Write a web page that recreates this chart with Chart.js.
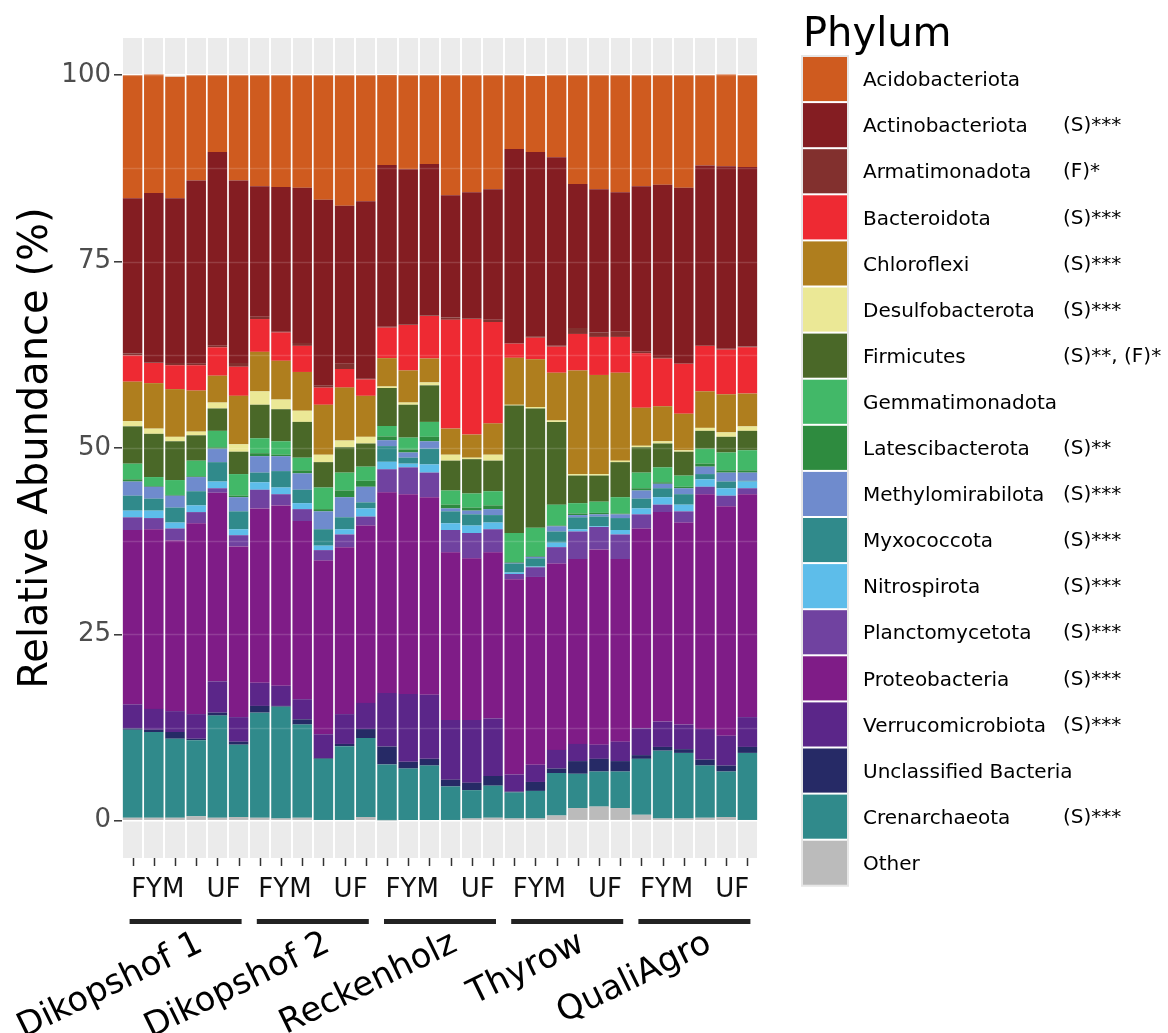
<!DOCTYPE html>
<html>
<head>
<meta charset="utf-8">
<title>Relative abundance by phylum</title>
<script src="https://cdn.jsdelivr.net/npm/chart.js@4.4.1/dist/chart.umd.min.js"></script>
<style>
  html, body { margin: 0; padding: 0; background: #fff; }
  #chart { display: block; }
</style>
</head>
<body>
<canvas id="chart" width="1168" height="1033"></canvas>
<script>
const sites = ['Dikopshof 1', 'Dikopshof 2', 'Reckenholz', 'Thyrow', 'QualiAgro']
const treatments = ['FYM', 'FYM', 'FYM', 'UF', 'UF', 'UF']
const yTicks = [0, 25, 50, 75, 100]

// legend order (top of the stack first)
const phyla = ['Acidobacteriota', 'Actinobacteriota', 'Armatimonadota', 'Bacteroidota', 'Chloroflexi',
  'Desulfobacterota', 'Firmicutes', 'Gemmatimonadota', 'Latescibacterota', 'Methylomirabilota',
  'Myxococcota', 'Nitrospirota', 'Planctomycetota', 'Proteobacteria', 'Verrucomicrobiota',
  'Unclassified Bacteria', 'Crenarchaeota', 'Other']
const phylumColors = ['#CF5B1F', '#841D22', '#82302E', '#EE2A33', '#AF7E1E',
  '#EBE896', '#4A6828', '#42B868', '#2E8B3F', '#6F8BCD',
  '#308A8B', '#5DBDEA', '#7042A0', '#7F1C87', '#5B2689',
  '#262A66', '#308A8B', '#BBBBBB']
const phylumNotes = ['', '(S)***', '(F)*', '(S)***', '(S)***',
  '(S)***', '(S)**, (F)*', '', '(S)**', '(S)***',
  '(S)***', '(S)***', '(S)***', '(S)***', '(S)***',
  '', '(S)***', '']

// relative abundance (%), 30 samples: 5 sites x (3 FYM + 3 UF)
const acidobacteriota = [16.5, 15.9, 16.3, 14.1, 10.3, 14.1, 14.9, 15.0, 15.1, 16.7, 17.5, 16.9, 12.1, 12.6, 11.9, 16.1, 15.7, 15.3, 9.9, 10.2, 11.0, 14.6, 15.3, 15.7, 14.9, 14.7, 15.1, 12.1, 12.3, 12.3]
const actinobacteriota = [20.8, 22.7, 22.1, 24.6, 26.0, 24.5, 17.5, 19.4, 20.8, 24.9, 21.2, 23.8, 21.7, 20.8, 20.3, 16.4, 16.9, 17.5, 26.0, 24.7, 25.3, 19.3, 19.2, 18.7, 22.2, 23.1, 23.5, 24.1, 24.5, 24.1]
const armatimonadota = [0.3, 0.1, 0.3, 0.2, 0.2, 0.5, 0.3, 0.1, 0.4, 0.3, 0.7, 0.1, 0.1, 0.1, 0.1, 0.3, 0.1, 0.3, 0.1, 0.2, 0.1, 0.8, 0.6, 0.7, 0.2, 0.2, 0.1, 0.1, 0.1, 0.1]
const bacteroidota = [3.5, 2.7, 3.2, 3.4, 3.8, 3.9, 4.4, 3.8, 3.5, 2.3, 2.5, 2.2, 4.1, 6.1, 5.7, 14.6, 15.5, 13.6, 1.9, 2.9, 3.5, 4.9, 5.1, 4.8, 7.3, 6.4, 6.7, 6.1, 6.0, 6.2]
const chloroflexi = [5.3, 6.1, 6.4, 5.5, 3.6, 6.5, 5.3, 5.2, 5.2, 6.7, 7.1, 5.5, 3.8, 4.3, 3.2, 3.5, 3.1, 4.2, 6.3, 6.4, 6.4, 13.9, 13.3, 11.8, 5.1, 4.7, 4.9, 4.9, 5.1, 4.4]
const desulfobacterota = [0.7, 0.7, 0.6, 0.5, 0.8, 1.0, 1.8, 1.3, 1.5, 1.0, 0.9, 0.9, 0.2, 0.3, 0.4, 0.8, 0.2, 0.8, 0.1, 0.2, 0.2, 0.2, 0.2, 0.2, 0.2, 0.3, 0.2, 0.4, 0.6, 0.6]
const firmicutes = [5.0, 5.8, 5.2, 3.4, 3.0, 3.0, 4.5, 4.3, 4.8, 3.4, 3.4, 3.1, 5.1, 4.4, 4.9, 4.0, 4.6, 4.1, 17.1, 16.0, 11.1, 3.7, 3.5, 4.7, 3.4, 3.2, 3.2, 2.4, 2.1, 2.6]
const gemmatimonadota = [2.1, 1.2, 2.0, 2.1, 2.2, 2.9, 2.0, 1.8, 1.7, 2.9, 2.4, 1.9, 1.4, 1.6, 2.0, 1.9, 1.9, 1.9, 3.9, 3.8, 2.8, 1.4, 1.5, 2.2, 2.1, 2.0, 1.5, 2.0, 2.4, 2.7]
const latescibacterota = [0.3, 0.1, 0.1, 0.1, 0.2, 0.2, 0.4, 0.2, 0.4, 0.3, 0.9, 0.8, 0.5, 0.4, 0.6, 0.5, 0.4, 0.5, 0.1, 0.1, 0.1, 0.2, 0.2, 0.1, 0.3, 0.2, 0.2, 0.4, 0.3, 0.3]
const methylomirabilota = [1.9, 1.6, 1.6, 1.9, 1.8, 1.9, 2.2, 2.0, 2.2, 2.4, 2.7, 2.1, 0.8, 0.7, 1.0, 0.4, 0.5, 0.8, 0.1, 0.2, 0.7, 0.3, 0.3, 0.5, 1.1, 0.6, 0.8, 1.0, 1.2, 1.1]
const myxococcota = [2.0, 1.6, 2.0, 1.9, 2.6, 2.4, 1.3, 2.2, 1.8, 2.2, 1.6, 0.8, 2.1, 0.8, 2.1, 1.6, 1.5, 1.0, 1.2, 1.1, 1.5, 1.6, 1.3, 1.6, 1.3, 1.2, 1.4, 0.7, 0.9, 0.1]
const nitrospirota = [0.9, 1.0, 0.8, 0.9, 0.9, 0.8, 1.0, 0.9, 0.8, 0.6, 0.7, 1.1, 1.0, 0.5, 1.1, 0.9, 1.0, 0.9, 0.2, 0.1, 0.6, 0.3, 0.1, 0.6, 0.8, 1.0, 0.9, 1.0, 1.0, 0.9]
const planctomycetota = [1.7, 1.5, 1.6, 1.5, 0.6, 1.5, 2.5, 1.5, 1.6, 1.4, 1.7, 1.2, 3.1, 3.6, 3.3, 3.0, 3.4, 3.1, 0.7, 1.3, 2.2, 3.7, 3.0, 3.3, 1.9, 1.0, 1.5, 1.0, 1.4, 0.8]
const proteobacteria = [23.4, 24.1, 22.9, 25.6, 25.3, 22.9, 23.4, 24.2, 23.9, 23.3, 22.4, 23.8, 26.9, 26.8, 26.5, 22.5, 21.7, 22.3, 26.2, 25.2, 25.0, 24.8, 26.2, 24.5, 26.8, 28.1, 27.1, 31.5, 30.8, 29.9]
const verrucomicrobiota = [3.2, 2.8, 2.8, 3.3, 4.2, 3.3, 3.1, 2.7, 2.7, 3.2, 4.0, 3.5, 7.2, 9.1, 8.6, 8.0, 8.4, 7.7, 2.3, 2.3, 2.5, 2.3, 1.9, 2.6, 3.6, 3.4, 3.3, 4.1, 4.0, 4.0]
const unclassified = [0.2, 0.3, 0.9, 0.2, 0.4, 0.4, 0.9, 0.1, 0.7, 0.1, 0.3, 1.2, 2.4, 0.9, 0.9, 0.9, 1.0, 1.3, 0.1, 1.2, 0.6, 1.7, 1.7, 1.4, 0.5, 0.5, 0.5, 0.8, 0.8, 0.8]
const crenarchaeota = [11.8, 11.5, 10.6, 10.2, 13.7, 9.7, 14.1, 15.0, 12.5, 8.2, 9.9, 10.6, 7.5, 7.0, 7.4, 4.5, 3.8, 4.3, 3.5, 3.7, 5.7, 4.6, 4.7, 4.9, 7.5, 9.1, 8.8, 7.0, 6.1, 9.0]
const other = [0.4, 0.4, 0.4, 0.6, 0.4, 0.5, 0.4, 0.3, 0.4, 0.1, 0.1, 0.5, 0.05, 0, 0, 0.1, 0.3, 0.4, 0.3, 0.3, 0.7, 1.7, 1.9, 1.7, 0.8, 0.3, 0.3, 0.4, 0.5, 0.1]

const abundance = [acidobacteriota, actinobacteriota, armatimonadota, bacteroidota, chloroflexi,
  desulfobacterota, firmicutes, gemmatimonadota, latescibacterota, methylomirabilota,
  myxococcota, nitrospirota, planctomycetota, proteobacteria, verrucomicrobiota,
  unclassified, crenarchaeota, other]

let barLabels = []
sites.forEach(s => treatments.forEach((t, j) => barLabels.push(s + ' ' + t + ' ' + (j % 3 + 1))))

// chart.js stacks the first dataset at the bottom, so go from "Other" upwards
let datasets = []
for (let i = phyla.length - 1; i >= 0; i--) {
  datasets.push({
    label: phyla[i],
    data: abundance[i],
    backgroundColor: phylumColors[i],
    borderWidth: 0,
    barPercentage: 0.92,
    categoryPercentage: 1
  })
}

const FONT = '"DejaVu Sans", sans-serif'

const decorations = {
  id: 'decorations',
  beforeDraw(chart) {
    const { ctx, chartArea: a } = chart
    ctx.save()
    ctx.fillStyle = '#EBEBEB'
    ctx.fillRect(a.left, a.top, a.right - a.left, a.bottom - a.top)
    ctx.restore()
  },
  afterDatasetsDraw(chart) {
    // bars are slightly see-through in the original, grid shows faintly
    const { ctx, chartArea: a, scales: { y } } = chart
    ctx.save()
    ctx.strokeStyle = 'rgba(255,255,255,0.15)'
    ctx.lineWidth = 1.5
    for (let v = 0; v <= 100; v += 12.5) {
      const py = Math.round(y.getPixelForValue(v)) + 0.5
      ctx.beginPath(); ctx.moveTo(a.left, py); ctx.lineTo(a.right, py); ctx.stroke()
    }
    ctx.restore()
  },
  afterDraw(chart) {
    const { ctx, chartArea: a, scales: { x } } = chart
    ctx.save()

    // y title
    ctx.save()
    ctx.translate(37, (a.top + a.bottom) / 2)
    ctx.rotate(-Math.PI / 2)
    ctx.font = '40px ' + FONT
    ctx.fillStyle = '#000'
    ctx.textAlign = 'center'
    ctx.textBaseline = 'middle'
    ctx.fillText('Relative Abundance (%)', 0, 0)
    ctx.restore()

    // x tick marks
    ctx.strokeStyle = '#333'
    ctx.lineWidth = 1.5
    for (let i = 0; i < barLabels.length; i++) {
      const px = Math.round(x.getPixelForValue(i)) + 0.5
      ctx.beginPath(); ctx.moveTo(px, a.bottom); ctx.lineTo(px, a.bottom + 8); ctx.stroke()
    }

    // treatment labels, site bars, site names
    sites.forEach((site, s) => {
      const first = s * treatments.length
      const last = first + treatments.length - 1
      const x0 = x.getPixelForValue(first)
      const x1 = x.getPixelForValue(last)
      ctx.fillStyle = '#111'
      ctx.font = '26px ' + FONT
      ctx.textAlign = 'center'
      ctx.textBaseline = 'middle'
      ctx.fillText('FYM', x.getPixelForValue(first + 1) + 4, 890)
      ctx.fillText('UF', x.getPixelForValue(first + 4) + 6, 890)

      ctx.fillStyle = '#222'
      ctx.fillRect(x0 - 3, 919, x1 - x0 + 6, 5)

      ctx.save()
      ctx.translate((x0 + x1) / 2 + 15, 942)
      ctx.rotate(-26 * Math.PI / 180)
      ctx.font = '34px ' + FONT
      ctx.fillStyle = '#000'
      ctx.textAlign = 'right'
      ctx.textBaseline = 'middle'
      ctx.fillText(site, 0, 0)
      ctx.restore()
    })

    // legend
    const keyX = 803, keyW = 44, rowTop = 57, rowStep = 46.1
    ctx.fillStyle = '#000'
    ctx.font = '40px ' + FONT
    ctx.textAlign = 'left'
    ctx.textBaseline = 'alphabetic'
    ctx.fillText('Phylum', 803, 46)

    ctx.strokeStyle = '#E6E6E6'
    ctx.lineWidth = 2
    ctx.strokeRect(keyX - 1, rowTop - 1, keyW + 2, rowStep * phyla.length)
    phyla.forEach((name, i) => {
      const top = rowTop + i * rowStep
      ctx.fillStyle = phylumColors[i]
      ctx.fillRect(keyX, top, keyW, rowStep - 2)
      ctx.fillStyle = '#000'
      ctx.font = '20px ' + FONT
      ctx.textBaseline = 'middle'
      ctx.fillText(name, 863, top + rowStep / 2 + 1)
      if (phylumNotes[i]) ctx.fillText(phylumNotes[i], 1063, top + rowStep / 2)
    })
    ctx.restore()
  }
}

const ctx = document.getElementById('chart').getContext('2d')
const myChart = new Chart(ctx, {
  type: 'bar',
  data: { labels: barLabels, datasets: datasets },
  options: {
    responsive: false,
    animation: false,
    layout: { padding: { left: 0, right: 410, top: 38, bottom: 175 } },
    plugins: { legend: { display: false }, tooltip: { enabled: false } },
    scales: {
      x: {
        stacked: true,
        ticks: { display: false },
        grid: { color: '#fff', lineWidth: 2, drawTicks: false },
        border: { display: false },
        afterFit: s => { s.height = 0 }
      },
      y: {
        stacked: true,
        min: -5,
        max: 105,
        afterBuildTicks: s => {
          let t = []
          yTicks.forEach((v, i) => {
            t.push({ value: v })
            if (i < yTicks.length - 1) t.push({ value: (v + yTicks[i + 1]) / 2 })
          })
          s.ticks = t
        },
        ticks: {
          callback: v => (yTicks.includes(v) ? v : ''),
          font: { family: 'DejaVu Sans', size: 26 },
          color: '#4D4D4D',
          padding: 3
        },
        grid: {
          color: '#fff',
          lineWidth: c => (c.tick && yTicks.includes(c.tick.value) ? 1.6 : 0.8),
          tickColor: c => (c.tick && yTicks.includes(c.tick.value) ? '#333' : 'rgba(0,0,0,0)'),
          tickLength: 8,
          tickWidth: 1.5
        },
        border: { display: false },
        afterFit: s => { s.width = 122 }
      }
    }
  },
  plugins: [decorations]
})
</script>
</body>
</html>
